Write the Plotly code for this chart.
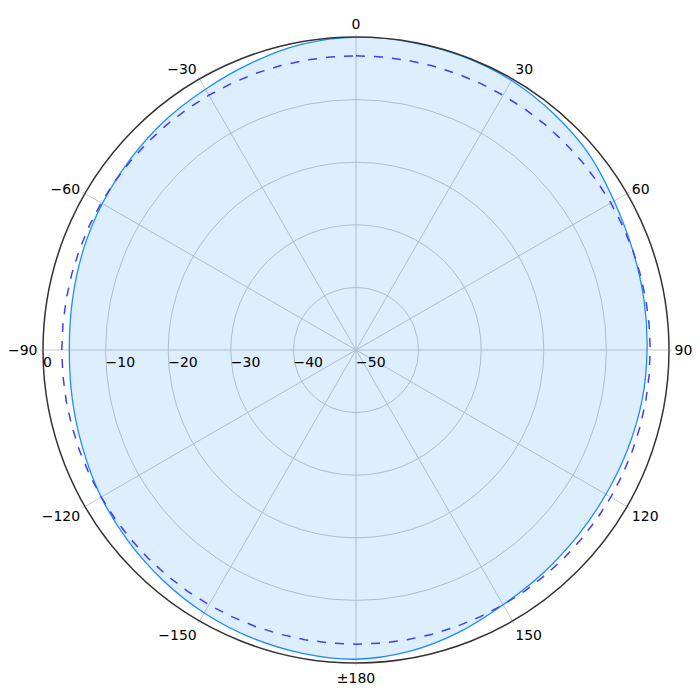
import plotly.graph_objects as go

# Measured pattern (dB), angle measured clockwise from the top
pattern_theta = [0, 10, 20, 30, 40, 50, 60, 70, 80, 90, 100, 110,
                 120, 130, 140, 150, 160, 170, 180, 190, 200, 210, 220, 230,
                 240, 250, 260, 270, 280, 290, 300, 310, 320, 330, 340, 350, 360]
pattern_db = [0.0, -0.05, -0.1, -0.3, -0.8, -1.4, -2.4, -3.0, -3.3, -3.5, -3.6, -3.8,
              -3.9, -3.8, -3.5, -3.0, -2.0, -1.1, -0.6, -0.8, -1.1, -1.5, -2.0, -2.5,
              -3.0, -3.6, -4.0, -4.2, -4.0, -3.6, -3.2, -2.8, -2.3, -1.9, -1.2, -0.4, 0.0]

# -3 dB reference ring
ref_level_db = -3
ref_theta = list(range(0, 361, 5))

angle_ticks = [0, 30, 60, 90, 120, 150, 180, 210, 240, 270, 300, 330]
angle_labels = ["0", "30", "60", "90", "120", "150", "±180",
                "−150", "−120", "−90", "−60", "−30"]
radial_ticks = [-50, -40, -30, -20, -10, 0]
radial_labels = ["−50", "−40", "−30", "−20", "−10", "0"]

fig = go.Figure()

# Pattern with light fill
fig.add_trace(go.Scatterpolar(
    r=pattern_db,
    theta=pattern_theta,
    mode="lines",
    line=dict(color="#1a8cff", width=1.3, shape="spline"),
    fill="toself",
    fillcolor="rgba(30,144,255,0.15)",
    showlegend=False,
))

# Dashed half-power circle
fig.add_trace(go.Scatterpolar(
    r=[ref_level_db] * len(ref_theta),
    theta=ref_theta,
    mode="lines",
    line=dict(color="#3d3dff", width=1.5, dash="dash"),
    showlegend=False,
))

grid = "#c6c6c6"
fig.update_layout(
    width=700,
    height=700,
    margin=dict(l=35, r=39, t=29, b=45),
    paper_bgcolor="white",
    font=dict(family="DejaVu Sans", size=14, color="black"),
    polar=dict(
        bgcolor="white",
        angularaxis=dict(
            direction="clockwise",
            rotation=90,
            tickmode="array",
            tickvals=angle_ticks,
            ticktext=angle_labels,
            showline=True,
            linecolor="#333333",
            linewidth=1.5,
            showgrid=True,
            gridcolor=grid,
            gridwidth=1,
            ticks="outside",
            ticklen=2,
            tickcolor=grid,
        ),
        radialaxis=dict(
            range=[-50, 0],
            angle=180,
            tickangle=180,
            side="counterclockwise",
            tickmode="array",
            tickvals=radial_ticks,
            ticktext=radial_labels,
            showline=False,
            ticks="",
            showgrid=True,
            gridcolor=grid,
            gridwidth=1,
        ),
    ),
)

fig.write_html("out.html")
